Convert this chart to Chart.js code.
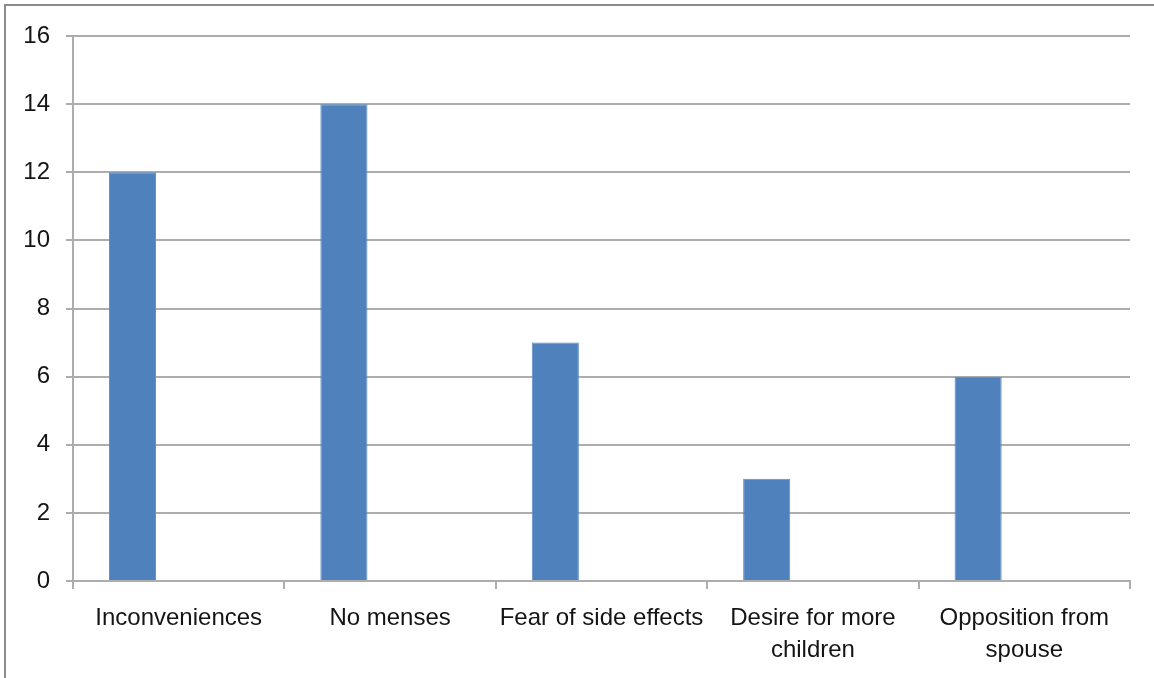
<!DOCTYPE html>
<html>
<head>
<meta charset="utf-8">
<script src="https://cdn.jsdelivr.net/npm/chart.js@4.4.1/dist/chart.umd.min.js"></script>
<style>
  html, body { margin: 0; padding: 0; background: #ffffff; overflow: hidden; }
  #wrap { position: relative; width: 1154px; height: 678px; }
  #frame { position: absolute; left: 4px; top: 4px; width: 1200px; height: 700px;
           border-left: 2px solid #8c8c8c; border-top: 2px solid #8c8c8c; }
  canvas { position: absolute; left: 0; top: 0; }
</style>
</head>
<body>
<div id="wrap">
  <div id="frame"></div>
  <canvas id="chart" width="1154" height="678"></canvas>
</div>
<script>
// Reasons reported for discontinuing the method
const categories = [
  "Inconveniences",
  "No menses",
  "Fear of side effects",
  ["Desire for more", "children"],
  ["Opposition from", "spouse"]
];
const reasonCounts = [12, 14, 7, 3, 6];
const secondSeries = [null, null, null, null, null];
const yTicks = { min: 0, max: 16, step: 2 };

const gridColor = "#adadad";
const textColor = "#141414";
const font = { family: "'Liberation Sans', Arial, sans-serif", size: 24 };

new Chart(document.getElementById("chart"), {
  type: "bar",
  data: {
    labels: categories,
    datasets: [
      {
        label: "Count",
        data: reasonCounts,
        backgroundColor: "#4f81bd",
        borderColor: "#5a8cc8",
        borderWidth: 1,
        categoryPercentage: 0.874,
        barPercentage: 0.51
      },
      {
        label: "Series 2",
        data: secondSeries,
        backgroundColor: "#c0504d",
        categoryPercentage: 0.874,
        barPercentage: 0.51
      }
    ]
  },
  options: {
    responsive: false,
    animation: false,
    layout: { padding: { top: 36, right: 24, left: 0, bottom: 0 } },
    plugins: { legend: { display: false }, tooltip: { enabled: false } },
    scales: {
      x: {
        grid: {
          drawOnChartArea: false,
          drawTicks: true,
          tickLength: 8,
          color: gridColor,
          lineWidth: 2,
          offset: true
        },
        border: { color: gridColor, width: 2 },
        ticks: {
          color: textColor,
          font: { ...font, lineHeight: 1.34 },
          padding: 13,
          maxRotation: 0,
          autoSkip: false
        },
        afterFit: (s) => { s.height = 97; }
      },
      y: {
        min: yTicks.min,
        max: yTicks.max,
        grid: {
          color: gridColor,
          lineWidth: 2,
          tickLength: 7,
          drawTicks: true
        },
        border: { color: gridColor, width: 2 },
        ticks: {
          stepSize: yTicks.step,
          color: textColor,
          font: font,
          padding: 16
        },
        afterFit: (s) => { s.width = 73; }
      }
    }
  }
});
</script>
</body>
</html>
